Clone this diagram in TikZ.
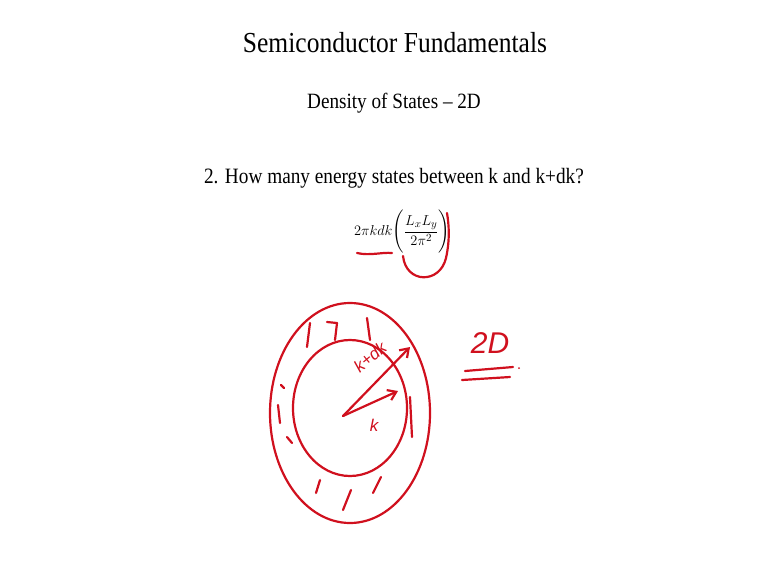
\documentclass[tikz,border=0pt]{standalone}
\usepackage{amsmath}
\usepackage{fontspec}
\setmainfont{Liberation Serif}[FakeStretch=0.88]
\newfontfamily\handfont{Liberation Sans}
\usetikzlibrary{arrows.meta,positioning,calc}
\definecolor{pen}{HTML}{D0101E}

\begin{document}
\begin{tikzpicture}[x=1pt,y=-1pt,
 ink/.style={draw=pen,line width=2.2pt,line cap=round,line join=round},
 scrawl/.style={text=pen,font=\handfont\itshape\fontsize{17}{19}\selectfont,inner sep=0pt},
 barb/.style={ink,-{Straight Barb[length=8pt,width=11pt]}}]
 \useasboundingbox (0,0) rectangle (768,579);
 \node[font=\fontsize{29}{32}\selectfont] (title) at (395,43) {Semiconductor Fundamentals};
 \node[font=\fontsize{21.8}{25}\selectfont] (sub) at (394,103) {Density of States -- 2D};
 \node[font=\fontsize{21.9}{25}\selectfont] (quest) at (394,178) {2. How many energy states between k and k+dk?};
 \node[font=\fontsize{15}{18}\selectfont] (dos) at (402,232) {$2\pi kdk\Biggl(\dfrac{L_xL_y}{2\pi^2}\Biggr)$};
 % marks on the formula
 \draw[ink] (357,253) .. controls (370,256) and (382,252) .. (392,253);
 \draw[ink] (403,256) .. controls (406,284) and (440,284) .. (446,258) .. controls (450,240) and (449,225) .. (447,213);
 % k-space ring
 \draw[ink] (350,413) ellipse[x radius=80,y radius=110];
 \draw[ink] (350,408) ellipse[x radius=57,y radius=68];
 \coordinate (org) at (343,416);
 \coordinate (ktip) at (398,391);
 \coordinate (kdktip) at (410,347);
 \draw[barb] (org) -- (ktip);
 \draw[barb] (org) -- (kdktip);
 \node[scrawl] (klab) at (374,425) {k};
 \node[scrawl,rotate=40] (kdklab) at (370,357) {k+dk};
 % hatching in the shell
 \draw[ink] (310,323) -- (307,347);
 \draw[ink] (327,322) -- (337,323) -- (335,340);
 \draw[ink] (367,318) -- (370,340);
 \draw[ink] (410,397) -- (412,437);
 \draw[ink] (281,385) -- (284,388);
 \draw[ink] (278,405) -- (280,423);
 \draw[ink] (287,437) -- (292,443);
 \draw[ink] (316,493) -- (320,480);
 \draw[ink] (343,510) -- (351,490);
 \draw[ink] (373,493) -- (381,477);
 % dimension note
 \node[scrawl,font=\handfont\itshape\fontsize{30}{32}\selectfont] (dim) at (490,343) {2D};
 \draw[ink] (465,371) -- (513,367);
 \draw[ink] (462,380) -- (510,377);
 \fill[pen] (519,368) circle[radius=1];
\end{tikzpicture}
\end{document}
